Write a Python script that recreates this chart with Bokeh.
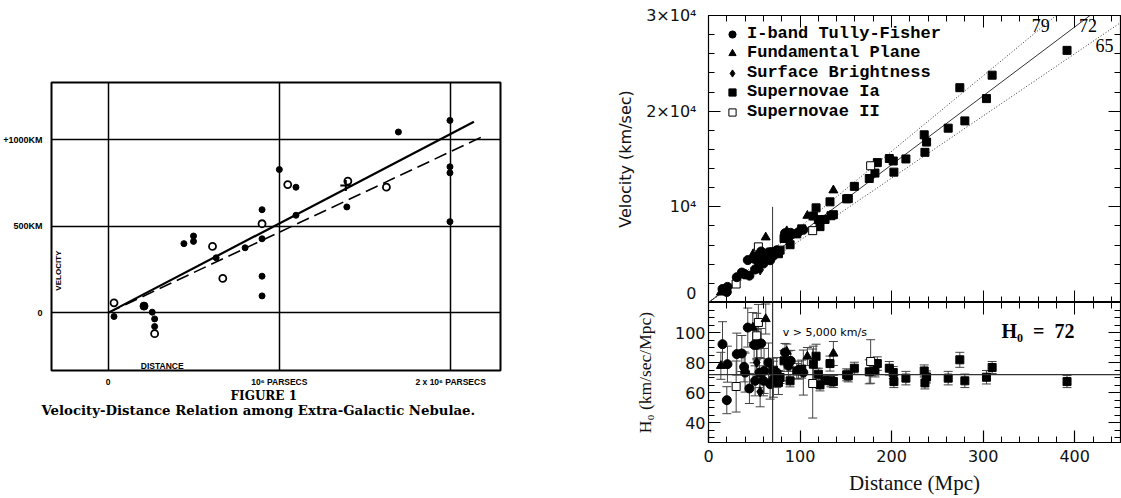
from bokeh.plotting import figure
from bokeh.models import (Range1d, LinearAxis, FixedTicker, SingleIntervalTicker, Label, Span,
                          Whisker, TeeHead, ColumnDataSource, Legend, LegendItem,
                          CustomJSTickFormatter, Title)
from bokeh.layouts import row, column
from bokeh.embed import file_html
from bokeh.resources import INLINE

# ---------------- Hubble (1929) data: distance in 10^6 pc, velocity in km/s ----------------
hub_dot_dist = [0.035, 0.258, 0.272, 0.272, 0.443, 0.499, 0.499, 0.631, 0.800, 0.899, 0.899,
                0.899, 0.899, 1.000, 1.097, 1.097, 1.394, 1.695, 1.996, 1.996, 1.996, 1.996]
hub_dot_vel = [-21, 4, -35, -79, 400, 444, 413, 318, 376, 596, 428,
               212, 98, 828, 726, 564, 612, 1045, 1112, 844, 809, 527]
hub_big_dist = [0.21]
hub_big_vel = [39]
hub_open_dist = [0.035, 0.272, 0.610, 0.670, 0.899, 1.049, 1.400, 1.625]
hub_open_vel = [58, -120, 384, 199, 515, 741, 761, 726]
hub_cross_dist = [1.388]
hub_cross_vel = [736]
hub_solid_dist = [0.0, 2.136]
hub_solid_vel = [0, 1104]
hub_dash_dist = [0.0, 2.204]
hub_dash_vel = [0, 1027]
hub_xticks = [0, 1, 2]
hub_xlabels = ["0", "10\u2076 PARSECS", "2 x 10\u2076 PARSECS"]
hub_yticks = [0, 500, 1000]
hub_ylabels = ["0", "500KM", "+1000KM"]

# ---------------- HST Key Project data: distance (Mpc), H0, error, velocity ----------------
tf_dist = [15.3, 20.0, 20.7, 30.9, 36.4, 38.9, 40.0, 42.9, 44.7, 49.8, 52.7, 57.5, 50.9,
           55.6, 60.0, 60.7, 65.5, 67.3, 70.9, 74.5, 83.6, 87.3, 89.8, 98.2, 103.6]
tf_h0 = [92.2, 54.9, 78.9, 85.6, 86.0, 77.1, 73.3, 103.3, 62.7, 91.8, 91.8, 92.7, 67.8,
         73.3, 67.8, 74.4, 80.0, 65.6, 68.9, 73.3, 86.7, 77.8, 81.1, 74.9, 73.3]
tf_err = [15, 9, 12, 14, 12, 10, 13, 13, 10, 12, 10, 10, 10,
          10, 10, 15, 13, 10, 12, 10, 6, 10, 7, 6, 15]
tf_vel = [1411, 1098, 1633, 2645, 3130, 2999, 2932, 4432, 2803, 4572, 4838, 5330, 3451,
          4075, 4068, 4516, 5240, 4415, 4885, 5461, 7248, 6792, 7283, 7355, 7594]

fp_dist = [13.5, 48.4, 62.5, 85.5, 108.0, 136.4]
fp_h0 = [77.8, 103.3, 109.0, 87.3, 84.0, 86.0]
fp_err = [9, 10, 10, 5, 6, 8]
fp_vel = [1050, 5000, 6813, 7464, 9072, 11730]

sbf_dist = [52.7, 56.4]
sbf_h0 = [80.0, 60.5]
sbf_err = [9, 10]
sbf_vel = [4216, 3412]

sn1a_dist = [70.9, 76.4, 78.2, 82.5, 89.1, 96.4, 101.8, 114.5, 117.5, 120.0, 121.8, 127.3,
             132.7, 133.8, 136.4, 150.9, 152.7, 159.3, 175.6, 181.8, 184.4, 197.5, 201.8,
             202.5, 215.6, 235.6, 236.4, 238.2, 261.8, 274.5, 280.0, 303.6, 309.8, 391.6]
sn1a_h0 = [74.9, 66.7, 70.0, 81.1, 67.8, 74.4, 75.6, 78.9, 84.2, 72.2, 65.1, 68.2,
           79.3, 67.8, 67.3, 71.8, 71.1, 76.2, 73.8, 74.4, 79.3, 76.2, 73.3,
           67.3, 69.6, 74.4, 66.4, 70.4, 69.6, 81.8, 67.8, 70.2, 76.7, 67.3]
sn1a_err = [8, 8, 4, 7, 4, 5, 6, 12, 8, 4, 4, 3,
            5, 4, 4, 4, 4, 4, 8, 4, 4.5, 4.5, 4,
            4, 4.5, 4, 4, 4, 4.5, 5, 4.5, 4.5, 4, 4]
sn1a_vel = [5310, 5096, 5474, 6691, 6041, 7172, 7696, 9034, 9894, 8664, 7929, 8682,
            10523, 9072, 9180, 10835, 10857, 12139, 12959, 13526, 14623, 15050, 14792,
            13628, 15006, 17529, 15697, 16769, 18221, 22454, 18984, 21313, 23762, 26355]

sn2_dist = [30.2, 52.7, 54.5, 113.8, 177.1]
sn2_h0 = [64.0, 97.8, 106.7, 66.0, 80.7]
sn2_err = [17, 15, 12, 23, 14.5]
sn2_vel = [1933, 5154, 5815, 7511, 14292]

legend_labels = ["I-band Tully-Fisher", "Fundamental Plane", "Surface Brightness",
                 "Supernovae Ia", "Supernovae II"]

h0_lines = [79, 72, 65]
h0_best = 72
line_dist = [0, 450]
cut_dist = 70
cut_vel_top = 10000

SERIF = "Liberation Serif"
SANS = "DejaVu Sans"

# ======================= Left panel: Hubble 1929 =======================
pl = figure(width=568, height=498, x_range=Range1d(-0.33, 2.291), y_range=Range1d(-333, 1331),
            output_backend="svg", toolbar_location=None,
            min_border_left=50, min_border_right=68, min_border_top=82, min_border_bottom=128)
pl.outline_line_color = "black"
pl.outline_line_width = 2
for ax, ticks, labels in ((pl.xaxis[0], hub_xticks, hub_xlabels), (pl.yaxis[0], hub_yticks, hub_ylabels)):
    ax.ticker = FixedTicker(ticks=ticks)
    ax.major_label_overrides = {t: l for t, l in zip(ticks, labels)}
    ax.axis_line_color = None
    ax.major_tick_line_color = None
    ax.minor_tick_line_color = None
    ax.major_label_text_font = "Liberation Sans"
    ax.major_label_text_font_style = "bold"
    ax.major_label_text_color = "black"
pl.xaxis.major_label_text_font_size = "8.5px"
pl.yaxis.major_label_text_font_size = "9px"
pl.xaxis.major_label_standoff = 0
pl.yaxis.major_label_standoff = 3
pl.xgrid.ticker = FixedTicker(ticks=hub_xticks)
pl.ygrid.ticker = FixedTicker(ticks=hub_yticks)
for g in (pl.xgrid[0], pl.ygrid[0]):
    g.grid_line_color = "black"
    g.grid_line_width = 1.5
    g.grid_line_alpha = 1.0

pl.line(hub_solid_dist, hub_solid_vel, line_color="black", line_width=2.2)
pl.line(hub_dash_dist, hub_dash_vel, line_color="black", line_width=1.6, line_dash="13 6")
pl.scatter(hub_dot_dist, hub_dot_vel, marker="circle", size=6, color="black")
pl.scatter(hub_big_dist, hub_big_vel, marker="circle", size=8, color="black")
pl.scatter(hub_open_dist, hub_open_vel, marker="circle", size=7, fill_color="white",
           line_color="black", line_width=1.8)
pl.scatter(hub_cross_dist, hub_cross_vel, marker="cross", size=11, line_color="black", line_width=2)

pl.add_layout(Label(x=-0.291, y=244, text="VELOCITY", angle=90, angle_units="deg",
                    text_font="Liberation Sans", text_font_style="bold", text_font_size="8px",
                    text_color="black", text_align="center", text_baseline="middle"))
pl.add_layout(Label(x=0.316, y=-306, text="DISTANCE", text_font="Liberation Sans",
                    text_font_style="bold", text_font_size="8.5px", text_color="black",
                    text_align="center", text_baseline="middle"))

fig_title = Title(text="FIGURE 1", align="left", offset=179, standoff=0,
                  text_font="DejaVu Serif", text_font_size="12px", text_font_style="bold",
                  text_color="black")
caption = Title(text="Velocity-Distance Relation among Extra-Galactic Nebulae.", align="left",
                offset=-10, standoff=3, text_font="DejaVu Serif", text_font_size="13.3px",
                text_font_style="bold", text_color="black")
try:
    fig_title.standoff = -6
except Exception:
    pass
pl.add_layout(fig_title, "below")
pl.add_layout(caption, "below")

# ======================= Right panels: HST Key Project =======================
xr = Range1d(0, 450)


def style_main_axis(ax, standoff):
    ax.major_tick_in = 12
    ax.major_tick_out = 0
    ax.minor_tick_in = 6
    ax.minor_tick_out = 0
    ax.axis_line_color = "black"
    ax.axis_line_width = 1.2
    ax.major_tick_line_width = 1.2
    ax.major_label_text_font = SANS
    ax.major_label_text_font_size = "16px"
    ax.major_label_text_color = "#111111"
    ax.major_label_standoff = standoff


def blank_axis(ticker):
    ax = LinearAxis(ticker=ticker, formatter=CustomJSTickFormatter(code="return ''"))
    ax.major_tick_in = 12
    ax.major_tick_out = 0
    ax.minor_tick_in = 6
    ax.minor_tick_out = 0
    ax.axis_line_color = "black"
    ax.axis_line_width = 1.2
    ax.major_label_text_font_size = "1px"
    ax.major_label_standoff = 0
    return ax


xticker = SingleIntervalTicker(interval=100, num_minor_ticks=5)
vticker = SingleIntervalTicker(interval=10000, num_minor_ticks=5)
hticker = SingleIntervalTicker(interval=20, num_minor_ticks=4)

pt = figure(width=553, height=302, x_range=xr, y_range=Range1d(0, 30000),
            output_backend="svg", toolbar_location=None,
            min_border_left=140, min_border_right=1, min_border_top=15, min_border_bottom=0)
pt.grid.visible = False
pt.outline_line_color = "black"
pt.xaxis.visible = False
pt.yaxis.ticker = vticker
pt.yaxis.major_label_overrides = {0: "0", 10000: "10\u2074", 20000: "2\u00d710\u2074", 30000: "3\u00d710\u2074"}
style_main_axis(pt.yaxis[0], 12)
pt.yaxis.axis_label = "Velocity (km/sec)"
pt.yaxis.axis_label_text_font = SANS
pt.yaxis.axis_label_text_font_style = "normal"
pt.yaxis.axis_label_text_font_size = "16px"
pt.yaxis.axis_label_text_color = "#111111"
pt.yaxis.axis_label_standoff = 8
pt.add_layout(blank_axis(xticker), "below")
pt.add_layout(blank_axis(xticker), "above")
pt.add_layout(blank_axis(vticker), "right")

for h, dash in zip(h0_lines, ["1 2", "solid", "1 2"]):
    pt.line(line_dist, [h * d for d in line_dist], line_color="#333333",
            line_width=1.0, line_dash=dash)
pt.segment(x0=[cut_dist], y0=[0], x1=[cut_dist], y1=[cut_vel_top], line_color="#333333", line_width=1)

r_sn1 = pt.scatter(sn1a_dist, sn1a_vel, marker="square", size=8, color="black")
r_sn2 = pt.scatter(sn2_dist, sn2_vel, marker="square", size=8, fill_color="white", line_color="black")
r_fp = pt.scatter(fp_dist, fp_vel, marker="triangle", size=9, color="black")
r_sbf = pt.scatter(sbf_dist, sbf_vel, marker="diamond", size=10, color="black")
r_tf = pt.scatter(tf_dist, tf_vel, marker="circle", size=9, color="black")

# one legend per row so that the rows can sit about 19.5 px apart, as in the reference
legend_offsets = [259, 240, 220, 201, 181]
for lab, rend, off in zip(legend_labels, [r_tf, r_fp, r_sbf, r_sn1, r_sn2], legend_offsets):
    lg = Legend(items=[LegendItem(label=lab, renderers=[rend])],
                location=(13, off), margin=0, padding=0, spacing=0,
                glyph_width=22, glyph_height=18, label_height=18, label_standoff=4,
                label_text_font="Liberation Mono", label_text_font_style="bold",
                label_text_font_size="17px", label_text_color="black",
                background_fill_alpha=0, border_line_alpha=0)
    pt.add_layout(lg)

for txt, d, v in (("79", 363, 28976), ("72", 414.6, 28976), ("65", 432.6, 26886)):
    pt.add_layout(Label(x=d, y=v, text=txt, text_font=SERIF, text_font_size="18px",
                        text_color="black", text_align="center", text_baseline="middle"))

pb = figure(width=553, height=196, x_range=xr, y_range=Range1d(26.7, 120),
            output_backend="svg", toolbar_location=None,
            min_border_left=140, min_border_right=1, min_border_top=0, min_border_bottom=56)
pb.grid.visible = False
pb.outline_line_color = "black"
pb.xaxis.ticker = xticker
pb.yaxis.ticker = hticker
style_main_axis(pb.xaxis[0], 7)
style_main_axis(pb.yaxis[0], 3)
pb.yaxis.major_label_overrides = {20: "", 120: ""}
pb.xaxis.axis_label = "Distance (Mpc)"
pb.yaxis.axis_label = "H\u2080 (km/sec/Mpc)"
for ax in (pb.xaxis[0], pb.yaxis[0]):
    ax.axis_label_text_font = SERIF
    ax.axis_label_text_font_style = "normal"
    ax.axis_label_text_font_size = "21px"
    ax.axis_label_text_color = "#111111"
    ax.axis_label_standoff = 6
pb.yaxis.axis_label_text_font_size = "17.5px"
pb.yaxis.axis_label_standoff = 17
pb.add_layout(blank_axis(xticker), "above")
pb.add_layout(blank_axis(hticker), "right")

pb.add_layout(Span(location=h0_best, dimension="width", line_color="#333333", line_width=1.2))
pb.add_layout(Span(location=cut_dist, dimension="height", line_color="#333333", line_width=1.2))

groups = [(sn1a_dist, sn1a_h0, sn1a_err), (sn2_dist, sn2_h0, sn2_err), (fp_dist, fp_h0, fp_err),
          (sbf_dist, sbf_h0, sbf_err), (tf_dist, tf_h0, tf_err)]
for dist, h0, err in groups:
    src = ColumnDataSource(dict(base=dist, upper=[h + e for h, e in zip(h0, err)],
                                lower=[h - e for h, e in zip(h0, err)]))
    pb.add_layout(Whisker(source=src, base="base", upper="upper", lower="lower",
                          line_color="#444444", line_width=1,
                          upper_head=TeeHead(size=9, line_color="#444444", line_width=1),
                          lower_head=TeeHead(size=9, line_color="#444444", line_width=1)))

pb.scatter(sn1a_dist, sn1a_h0, marker="square", size=8, color="black")
pb.scatter(sn2_dist, sn2_h0, marker="square", size=8, fill_color="white", line_color="black")
pb.scatter(fp_dist, fp_h0, marker="triangle", size=9, color="black")
pb.scatter(sbf_dist, sbf_h0, marker="diamond", size=10, color="black")
pb.scatter(tf_dist, tf_h0, marker="circle", size=9, color="black")

pb.add_layout(Label(x=81, y=100, text="v > 5,000 km/s", text_font=SANS, text_font_size="11px",
                    text_color="black", text_align="left", text_baseline="middle"))
pb.add_layout(Label(x=320, y=101, text="H\u2080\u00a0\u00a0=\u00a0\u00a072", text_font=SERIF,
                    text_font_size="20px", text_color="black",
                    text_font_style="bold", text_align="left", text_baseline="middle"))

layout = row(pl, column(pt, pb))
open("out.html", "w").write(file_html(layout, INLINE))
